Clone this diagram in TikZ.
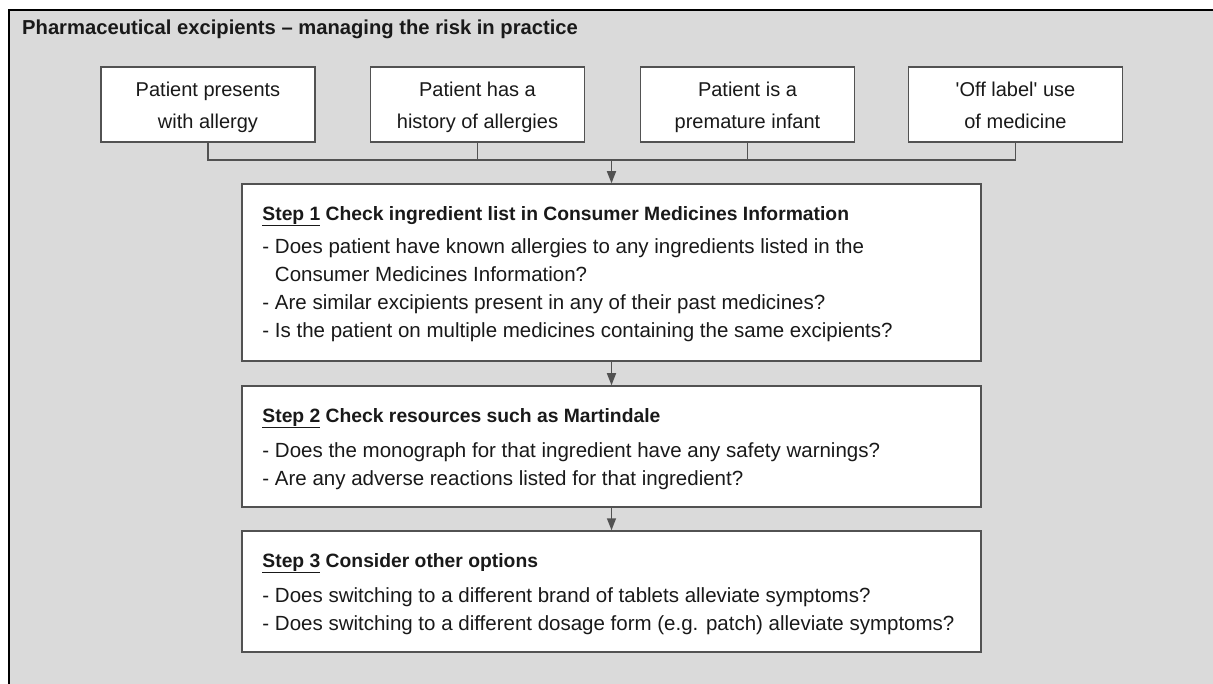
\documentclass[tikz,border=0pt]{standalone}
\usepackage{fontspec}
\setmainfont{Liberation Sans}
\usetikzlibrary{arrows.meta,calc}
\definecolor{panelgray}{gray}{0.855}
\definecolor{edgegray}{gray}{0.32}
\definecolor{inkblack}{gray}{0.1}
\tikzset{
  frameline/.style={draw=black, line width=2.4pt},
  topbox/.style={draw=edgegray, fill=white, line width=1.5pt, minimum width=214pt, minimum height=75pt, inner sep=0pt},
  stepbox/.style={draw=edgegray, fill=white, line width=1.5pt, minimum width=739pt, inner sep=0pt},
  toptext/.style={anchor=base, align=center, text=inkblack, inner sep=0pt, font=\fontsize{20}{32}\selectfont},
  steptext/.style={anchor=base west, align=left, text=inkblack, inner sep=0pt, font=\fontsize{20.5}{28}\selectfont},
  conn/.style={draw=edgegray, line width=1.5pt},
  connarrow/.style={conn, -{Triangle[length=12pt,width=9pt]}},
}
\newcommand{\stephead}[2]{{\fontsize{19.3}{28}\selectfont\bfseries\underline{#1} #2}}
\begin{document}
\begin{tikzpicture}[x=1pt, y=-1pt]
\useasboundingbox (0,0) rectangle (1213,684);
% panel
\fill[white] (0,0) rectangle (1213,684);
\fill[panelgray] (9,10) rectangle (1214,685);
\draw[frameline] (9,686) -- (9,10) -- (1215,10);
% title
\node[anchor=base west, inner sep=0pt, text=inkblack, font=\fontsize{20.2}{24}\selectfont\bfseries] (title) at (22,35)
  {Pharmaceutical excipients \textendash{} managing the risk in practice};
% top boxes
\node[topbox] (b1) at (208,104.5) {};
\node[topbox] (b2) at (477.5,104.5) {};
\node[topbox] (b3) at (747.5,104.5) {};
\node[topbox] (b4) at (1015.5,104.5) {};
% anchor=base of a multi-line node is the baseline of its last line
\node[toptext] (t1) at ($(b1.north)+(0,62)$) {Patient presents\\with allergy};
\node[toptext] (t2) at ($(b2.north)+(0,62)$) {Patient has a\\history of allergies};
\node[toptext] (t3) at ($(b3.north)+(0,62)$) {Patient is a\\premature infant};
\node[toptext] (t4) at ($(b4.north)+(0,62)$) {\textquotesingle Off label\textquotesingle{} use\\of medicine};
% step boxes
\node[stepbox, minimum height=177pt] (s1) at (611.5,272.5) {};
\node[stepbox, minimum height=121pt] (s2) at (611.5,446.5) {};
\node[stepbox, minimum height=121pt] (s3) at (611.5,591.5) {};
\node[steptext] (s1t) at ($(s1.north west)+(21,154)$) {%
  \stephead{Step 1}{Check ingredient list in Consumer Medicines Information}\\[5pt]
  - Does patient have known allergies to any ingredients listed in the\\
  \hphantom{- }Consumer Medicines Information?\\
  - Are similar excipients present in any of their past medicines?\\
  - Is the patient on multiple medicines containing the same excipients?};
\node[steptext] (s2t) at ($(s2.north west)+(21,100)$) {%
  \stephead{Step 2}{Check resources such as Martindale}\\[7pt]
  - Does the monograph for that ingredient have any safety warnings?\\
  - Are any adverse reactions listed for that ingredient?};
\node[steptext] (s3t) at ($(s3.north west)+(21,100)$) {%
  \stephead{Step 3}{Consider other options}\\[7pt]
  - Does switching to a different brand of tablets alleviate symptoms?\\
  - Does switching to a different dosage form (e.g. patch) alleviate symptoms?};
% connectors
\coordinate (j) at ($(s1.north)+(0,-23)$);
\draw[conn] (b1.south) -- (b1.south |- j) -- (b4.south |- j) -- (b4.south);
\draw[conn] (b2.south) -- (b2.south |- j);
\draw[conn] (b3.south) -- (b3.south |- j);
\draw[connarrow] (j) -- (s1.north);
\draw[connarrow] (s1.south) -- (s2.north);
\draw[connarrow] (s2.south) -- (s3.north);
\end{tikzpicture}
\end{document}
